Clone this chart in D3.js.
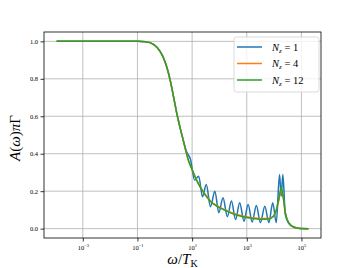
<!doctype html>
<html>
<head>
<meta charset="utf-8">
<script src="https://d3js.org/d3.v7.min.js"></script>
<style>
  body { margin: 0; background: #fff; }
  text { font-family: "Liberation Serif", "DejaVu Serif", serif; fill: #000; }
</style>
</head>
<body>
<script>
// omega / T_K grid for the N_z = 4 and N_z = 12 curves
var omega = [1.1e-4, 1e-3, 1e-2, 0.1, 0.2, 0.39, 0.68, 0.91, 1.22, 1.62, 2.14, 2.82, 3.55,
  4.5, 6.0, 7.5, 10, 15, 20, 32, 47, 70, 100, 195, 390, 790, 1600, 3160, 6450, 8900,
  11200, 14800, 18200, 21400, 25700, 33900, 51300, 89000, 180000];
var nz12 = [1, 1, 1, 1, 0.998, 0.984, 0.945, 0.91, 0.856, 0.785, 0.697, 0.608, 0.545,
  0.485, 0.41, 0.36, 0.315, 0.255, 0.22, 0.175, 0.145, 0.125, 0.112, 0.092, 0.074, 0.062, 0.054,
  0.05, 0.052, 0.062, 0.085, 0.156, 0.218, 0.173, 0.085, 0.032, 0.009, 0.001, 0];
var nz4 = [1, 1, 1, 1, 0.998, 0.984, 0.945, 0.91, 0.856, 0.785, 0.697, 0.608, 0.545,
  0.485, 0.41, 0.36, 0.315, 0.256, 0.222, 0.178, 0.148, 0.128, 0.115, 0.095, 0.078, 0.066, 0.058,
  0.054, 0.055, 0.064, 0.085, 0.15, 0.205, 0.168, 0.085, 0.032, 0.009, 0.001, 0];

// N_z = 1 has its own grid because of the oscillations
var omegaBlue = [1.1e-4, 1e-3, 1e-2, 0.1, 0.2, 0.39, 0.68, 0.91, 1.22, 1.62, 2.14, 2.82, 3.55,
  4.5, 6.3, 8.7, 12.3, 17.4, 24, 33, 47, 68, 95, 135, 195, 275, 390, 550, 790, 1120, 1580,
  2240, 3160, 4570, 6450, 8900, 12000, 15800, 18200, 20900, 25700, 33900, 51300, 89000, 180000];
var nz1 = [1, 1, 1, 1, 0.998, 0.984, 0.945, 0.91, 0.856, 0.785, 0.697, 0.608, 0.545,
  0.485, 0.41, 0.37, 0.26, 0.28, 0.17, 0.236, 0.117, 0.2, 0.085, 0.165, 0.064, 0.147, 0.049,
  0.138, 0.04, 0.129, 0.035, 0.124, 0.032, 0.12, 0.032, 0.138, 0.032, 0.289, 0.173, 0.289,
  0.075, 0.03, 0.009, 0.001, 0];

var xTicks = [1e-3, 1e-1, 1e1, 1e3, 1e5];
var xTickExp = ["\u22123", "\u22121", "1", "3", "5"];
var yTicks = [0, 0.2, 0.4, 0.6, 0.8, 1.0];
var nzLabels = ["1", "4", "12"];

var W = 357, H = 268;
var axL = 44, axR = 321, axT = 32, axB = 238;

var svg = d3.select("body").append("svg")
  .attr("width", W).attr("height", H);

// log axis with 5% padding like matplotlib
var lo = Math.log10(d3.min(omega)), hi = Math.log10(d3.max(omega));
var pad = (hi - lo) * 0.05;
var x = d3.scaleLog()
  .domain([Math.pow(10, lo - pad), Math.pow(10, hi + pad)])
  .range([axL, axR]);
var y = d3.scaleLinear().domain([-0.05, 1.05]).range([axB, axT]);

// grid
svg.append("g").selectAll("line").data(xTicks).enter().append("line")
  .attr("x1", d => x(d)).attr("x2", d => x(d))
  .attr("y1", axT).attr("y2", axB)
  .attr("stroke", "#b0b0b0").attr("stroke-width", 0.8);
svg.append("g").selectAll("line").data(yTicks).enter().append("line")
  .attr("x1", axL).attr("x2", axR)
  .attr("y1", d => y(d)).attr("y2", d => y(d))
  .attr("stroke", "#b0b0b0").attr("stroke-width", 0.8);

// curves
function drawLine(xs, ys, color) {
  var line = d3.line()
    .x(function(d, i) { return x(xs[i]); })
    .y(function(d) { return y(d); })
    .curve(d3.curveMonotoneX);
  svg.append("path")
    .datum(ys)
    .attr("d", line)
    .attr("fill", "none")
    .attr("stroke", color)
    .attr("stroke-width", 1.5)
    .attr("stroke-linejoin", "round");
}
drawLine(omegaBlue, nz1, "#1f77b4");
drawLine(omega, nz4, "#ff7f0e");
drawLine(omega, nz12, "#2ca02c");

// axes
var xAxis = svg.append("g")
  .attr("transform", "translate(0," + axB + ")")
  .call(d3.axisBottom(x).tickValues(xTicks).tickSize(3.5).tickFormat(""));
var yAxis = svg.append("g")
  .attr("transform", "translate(" + axL + ",0)")
  .call(d3.axisLeft(y).tickValues(yTicks).tickSize(3.5).tickFormat(d3.format(".1f")));
[xAxis, yAxis].forEach(function(g) {
  g.select(".domain").remove();
  g.selectAll(".tick line").attr("stroke", "#000").attr("stroke-width", 0.8);
});
yAxis.selectAll(".tick text")
  .attr("x", -6).attr("font-size", 6.5)
  .style("font-family", "Liberation Serif, serif");

xAxis.selectAll(".tick").each(function(d, i) {
  var t = d3.select(this).append("text")
    .attr("y", 12).attr("text-anchor", "middle").attr("font-size", 6.5);
  t.append("tspan").text("10");
  t.append("tspan").attr("dy", -3).attr("font-size", 4.5).text(xTickExp[i]);
});

// frame
svg.append("rect")
  .attr("x", axL).attr("y", axT)
  .attr("width", axR - axL).attr("height", axB - axT)
  .attr("fill", "none").attr("stroke", "#000").attr("stroke-width", 0.8);

// axis labels
var xl = svg.append("text")
  .attr("x", (axL + axR) / 2).attr("y", 264)
  .attr("text-anchor", "middle").attr("font-size", 15);
xl.append("tspan").attr("font-style", "italic").text("\u03c9");
xl.append("tspan").text("/");
xl.append("tspan").attr("font-style", "italic").text("T");
xl.append("tspan").attr("dy", 3).attr("font-size", 10).text("K");

var yl = svg.append("text")
  .attr("transform", "translate(20," + ((axT + axB) / 2 + 3) + ") rotate(-90)")
  .attr("text-anchor", "middle").attr("font-size", 15);
yl.append("tspan").attr("font-style", "italic").text("A");
yl.append("tspan").text("(");
yl.append("tspan").attr("font-style", "italic").text("\u03c9");
yl.append("tspan").text(")");
yl.append("tspan").attr("font-style", "italic").text("\u03c0");
yl.append("tspan").text("\u0393");

// legend
var colors = ["#1f77b4", "#ff7f0e", "#2ca02c"];
var lg = svg.append("g");
lg.append("rect")
  .attr("x", 234).attr("y", 37).attr("width", 85).attr("height", 55)
  .attr("rx", 2.5).attr("fill", "#fff").attr("fill-opacity", 0.8)
  .attr("stroke", "#d0d0d0").attr("stroke-width", 0.8);
nzLabels.forEach(function(n, i) {
  var ly = 47 + i * 16.5;
  lg.append("line")
    .attr("x1", 237).attr("x2", 262).attr("y1", ly).attr("y2", ly)
    .attr("stroke", colors[i]).attr("stroke-width", 1.5);
  var t = lg.append("text").attr("x", 272).attr("y", ly + 3.5).attr("font-size", 10.5);
  t.append("tspan").attr("font-style", "italic").text("N");
  t.append("tspan").attr("dy", 2).attr("font-size", 7).attr("font-style", "italic").text("z");
  t.append("tspan").attr("dy", -2).text(" = " + n);
});
</script>
</body>
</html>
